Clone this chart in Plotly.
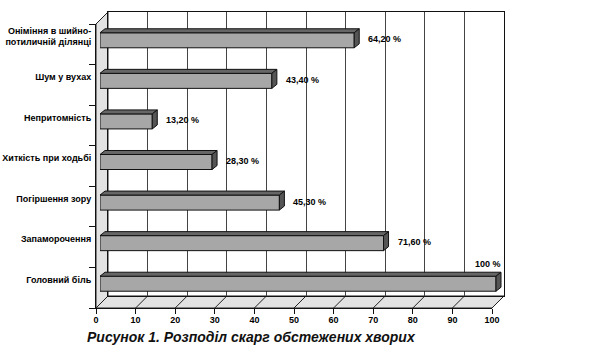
import plotly.graph_objects as go

# ---------------- data ----------------
categories = [
    "Оніміння в шийно-<br>потиличній ділянці",
    "Шум у вухах",
    "Непритомність",
    "Хиткість при ходьбі",
    "Погіршення зору",
    "Запаморочення",
    "Головний біль",
]
values = [64.2, 43.4, 13.2, 28.3, 45.3, 71.6, 100]
value_labels = ["64,20 %", "43,40 %", "13,20 %", "28,30 %", "45,30 %", "71,60 %", "100 %"]
x_ticks = [0, 10, 20, 30, 40, 50, 60, 70, 80, 90, 100]
title_text = "Рисунок 1. Розподіл скарг обстежених хворих"

# ---------------- layout geometry (pixels) ----------------
W, H = 597, 360
L, R, T, B = 96, 504, 12, 308
PW, PH = R - L, B - T
DEPTH = 12          # depth of the 3-D box
FRONT_W = 396       # width of front x axis (0..100)
FRONT_TOP = 24
BAR_OFF = 4         # bar front face offset into the box
BDX, BDY = 5, 4     # bar depth (px)
XMAX_BAR = 102


def xdom(x0, x1):
    return [(x0 - L) / PW, (x1 - L) / PW]


def ydom(y0, y1):
    return [(B - y1) / PH, (B - y0) / PH]


def px(x):
    return (x - L) / PW


def py(y):
    return (B - y) / PH


n = len(categories)
idx = list(range(n))
yrange = [n - 0.5, -0.5]
ppu = FRONT_W / 100.0
cat_h = (B - FRONT_TOP) / n
hw = 0.185
dx = BDX / ppu
dy = BDY / cat_h

GREY_FRONT = "#a7a7a7"
GREY_TOP = "#666666"
GREY_SIDE = "#555555"
TXT = "#000000"
FONT = "Liberation Sans"

fig = go.Figure()

# invisible traces to instantiate axes
fig.add_trace(go.Scatter(x=[0], y=[0], xaxis="x", yaxis="y", mode="none", showlegend=False, hoverinfo="skip"))
fig.add_trace(go.Scatter(x=[0], y=[0], xaxis="x2", yaxis="y2", mode="none", showlegend=False, hoverinfo="skip"))
fig.add_trace(go.Scatter(x=[0], y=[0], xaxis="x", yaxis="y4", mode="none", showlegend=False, hoverinfo="skip"))

# bars (front face)
fig.add_trace(go.Bar(
    x=values, y=idx, orientation="h", width=2 * hw,
    xaxis="x3", yaxis="y3",
    marker=dict(color=GREY_FRONT, line=dict(color="#111111", width=1)),
    showlegend=False, hoverinfo="skip",
))

# bar top faces and side faces (pseudo 3-D)
top_x, top_y, side_x, side_y = [], [], [], []
for i, v in zip(idx, values):
    yt = i - hw
    yb = i + hw
    top_x += [0, v, v + dx, dx, 0, None]
    top_y += [yt, yt, yt - dy, yt - dy, yt, None]
    side_x += [v, v + dx, v + dx, v, v, None]
    side_y += [yt, yt - dy, yb - dy, yb, yt, None]

fig.add_trace(go.Scatter(x=top_x, y=top_y, xaxis="x3", yaxis="y3", mode="lines",
                         fill="toself", fillcolor=GREY_TOP,
                         line=dict(color="#111111", width=1),
                         showlegend=False, hoverinfo="skip"))
fig.add_trace(go.Scatter(x=side_x, y=side_y, xaxis="x3", yaxis="y3", mode="lines",
                         fill="toself", fillcolor=GREY_SIDE,
                         line=dict(color="#111111", width=1),
                         showlegend=False, hoverinfo="skip"))

# value labels
annotations = []
for i, v, lab in zip(idx, values, value_labels):
    if v >= 95:
        annotations.append(dict(x=v, y=i, xref="x3", yref="y3", text="<b>%s</b>" % lab,
                                showarrow=False, xanchor="right", yanchor="middle",
                                xshift=7, yshift=20, font=dict(family=FONT, size=9, color=TXT)))
    else:
        annotations.append(dict(x=v, y=i, xref="x3", yref="y3", text="<b>%s</b>" % lab,
                                showarrow=False, xanchor="left", yanchor="middle",
                                xshift=12, yshift=1, font=dict(family=FONT, size=9, color=TXT)))

# decorative 3-D box: left wall and floor
shapes = [
    dict(type="path", xref="paper", yref="paper", layer="below",
         path="M %f %f L %f %f L %f %f L %f %f Z" % (
             px(L), py(FRONT_TOP), px(L + DEPTH), py(T), px(L + DEPTH), py(B - DEPTH), px(L), py(B)),
         fillcolor="#e2e2e2", line=dict(color="#222222", width=1)),
    dict(type="path", xref="paper", yref="paper", layer="below",
         path="M %f %f L %f %f L %f %f L %f %f Z" % (
             px(L), py(B), px(L + FRONT_W), py(B), px(L + FRONT_W + DEPTH), py(B - DEPTH), px(L + DEPTH), py(B - DEPTH)),
         fillcolor="#e2e2e2", line=dict(color="#222222", width=1)),
]
for t in x_ticks:
    xf = L + t * ppu
    shapes.append(dict(type="line", xref="paper", yref="paper", layer="below",
                       x0=px(xf), y0=py(B), x1=px(xf + DEPTH), y1=py(B - DEPTH),
                       line=dict(color="#222222", width=1)))

tickfont = dict(family=FONT, size=9, color=TXT, weight="bold")

fig.update_layout(
    width=W, height=H,
    margin=dict(l=L, r=W - R, t=T, b=H - B, autoexpand=False),
    paper_bgcolor="white",
    plot_bgcolor="rgba(0,0,0,0)",
    showlegend=False,
    annotations=annotations,
    shapes=shapes,
    title=dict(text="<b><i>%s</i></b>" % title_text, x=87 / W, xanchor="left",
               y=1 - 337 / H, yanchor="middle", xref="container", yref="container",
               font=dict(family=FONT, size=14, color="#111111")),
    # front axes
    xaxis=dict(domain=xdom(L, L + FRONT_W), range=[0, 100], anchor="y", automargin=False,
               tickmode="array", tickvals=x_ticks, ticks="outside", ticklen=5,
               ticklabelstandoff=-2,
               tickcolor="#111111", showline=True, linecolor="#111111", linewidth=1,
               showgrid=False, zeroline=False, tickfont=tickfont),
    yaxis=dict(domain=ydom(FRONT_TOP, B), range=yrange, anchor="x", automargin=False,
               tickmode="array", tickvals=[k - 0.5 for k in range(n + 1)],
               ticks="outside", ticklen=6, tickcolor="#111111",
               showticklabels=False, showline=True, linecolor="#111111", linewidth=1,
               showgrid=False, zeroline=False),
    # back wall
    xaxis2=dict(domain=xdom(L + DEPTH, R), range=[0, 100], anchor="y2", automargin=False,
                tickmode="array", tickvals=x_ticks, showticklabels=False, ticks="",
                showgrid=True, gridcolor="#444444", gridwidth=1,
                showline=True, mirror=True, linecolor="#111111", linewidth=1, zeroline=False),
    yaxis2=dict(domain=ydom(T, B - DEPTH), range=[0, 1], anchor="x2", automargin=False,
                showticklabels=False, ticks="", showgrid=False, zeroline=False,
                showline=True, mirror=True, linecolor="#111111", linewidth=1),
    # bars
    xaxis3=dict(domain=xdom(L + BAR_OFF, L + BAR_OFF + XMAX_BAR * ppu), range=[0, XMAX_BAR],
                anchor="y3", visible=False, automargin=False),
    yaxis3=dict(domain=ydom(FRONT_TOP - BAR_OFF, B - BAR_OFF), range=yrange,
                anchor="x3", visible=False, automargin=False),
    # category labels
    yaxis4=dict(domain=ydom(FRONT_TOP - 8, B - 8), range=yrange, anchor="x", automargin=False,
                tickmode="array", tickvals=idx, ticktext=categories,
                ticks="outside", ticklen=2, tickcolor="rgba(0,0,0,0)",
                showline=False, showgrid=False, zeroline=False,
                tickfont=dict(family=FONT, size=9, color=TXT, weight="bold")),
)

fig.write_html("out.html", config={"displayModeBar": False},
               post_script="document.body.style.margin='0px';")
